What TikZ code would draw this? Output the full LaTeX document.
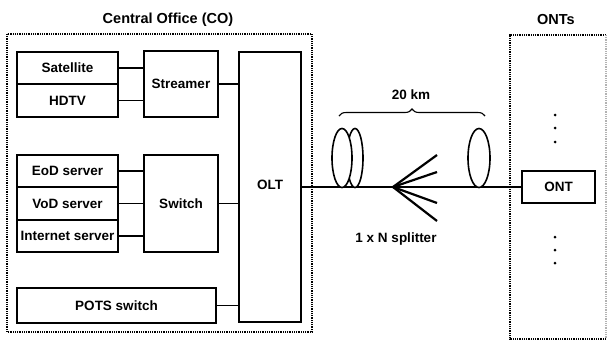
\documentclass[tikz,border=0pt]{standalone}
\usepackage{fontspec}
\setmainfont{Liberation Sans}
\usetikzlibrary{decorations.pathreplacing}
\tikzset{
  box/.style={draw, line width=1.7pt, inner sep=0pt, font=\fontsize{13.5}{15}\selectfont\bfseries},
  wire/.style={line width=1.8pt},
  region/.style={line width=1.3pt, dash pattern=on 1pt off 0.8pt},
  lbl/.style={inner sep=0pt, font=\fontsize{13.5}{15}\selectfont\bfseries},
  ttl/.style={inner sep=0pt, font=\fontsize{14.5}{16}\selectfont\bfseries},
}
\begin{document}
\begin{tikzpicture}[x=1pt,y=-1pt]
\useasboundingbox (0,0) rectangle (608,341);
% regions
\draw[region] (7,34) rectangle (312,332);
\draw[region] (606,339) -- (510,339) -- (510,35) -- (606,35);
\draw[region, gray!60] (606,35) -- (606,339);
\node[ttl] (cotitle) at (168,20) {Central Office (CO)};
\node[ttl] (onttitle) at (556,20) {ONTs};
% boxes
\node[box, minimum width=101pt, minimum height=32pt] (sat) at (67.5,68) {Satellite};
\node[box, minimum width=101pt, minimum height=33pt] (hdtv) at (67.5,100.5) {HDTV};
\node[box, minimum width=74pt, minimum height=66pt] (stream) at (181,84) {Streamer};
\node[box, minimum width=62pt, minimum height=270pt] (olt) at (270,187) {};
\node[lbl] (oltlbl) at (270,185) {OLT};
\node[box, minimum width=101pt, minimum height=32pt] (eod) at (67.5,171) {EoD server};
\node[box, minimum width=101pt, minimum height=33pt] (vod) at (67.5,203.5) {VoD server};
\node[box, minimum width=101pt, minimum height=32pt] (inet) at (67.5,236) {Internet server};
\node[box, minimum width=74pt, minimum height=97pt] (switch) at (181,203.5) {Switch};
\node[box, minimum width=199pt, minimum height=35pt] (pots) at (116.5,305.5) {POTS switch};
\node[box, minimum width=73pt, minimum height=32pt] (ont) at (558.5,187) {ONT};
% connectors
\draw[wire] (sat.east) -- (sat.east -| stream.west);
\draw[wire] (hdtv.east) -- (hdtv.east -| stream.west);
\draw[wire] (stream.east) -- (stream.east -| olt.west);
\draw[wire] (eod.east) -- (eod.east -| switch.west);
\draw[wire] (vod.east) -- (vod.east -| switch.west);
\draw[wire] (inet.east) -- (inet.east -| switch.west);
\draw[wire] (switch.east) -- (switch.east -| olt.west);
\draw[wire] (pots.east) -- (pots.east -| olt.west);
% fiber
\draw[wire] (olt.east) -- (ont.west);
\coordinate (apex) at (393,187);
\coordinate (f1) at (437,155);
\coordinate (f2) at (437,172);
\coordinate (f3) at (437,203);
\coordinate (f4) at (437,221);
\draw[wire, line width=2.2pt] (apex) -- (f1);
\draw[wire, line width=2.2pt] (apex) -- (f2);
\draw[wire, line width=2.2pt] (apex) -- (f3);
\draw[wire, line width=2.2pt] (apex) -- (f4);
% spools
\draw[line width=1.6pt, fill=white] (355,158) ellipse [x radius=8pt, y radius=29.5pt];
\draw[line width=1.6pt, fill=white] (342,158) ellipse [x radius=10pt, y radius=29.5pt];
\draw[line width=1.6pt, fill=white] (479,158) ellipse [x radius=11pt, y radius=29.5pt];
% brace
\coordinate (b1) at (339,116);
\coordinate (b2) at (485,116);
\draw[line width=1.1pt, decorate, decoration={brace, amplitude=7pt}] (b1) -- (b2);
\node[lbl] (km) at (411,95) {20 km};
\node[lbl] (split) at (396,239) {1 x N splitter};
% dots
\foreach \yy [count=\i] in {115,128,142,237,250,263}
  \fill (555,\yy) circle [radius=1.5pt] coordinate (dot\i);
\end{tikzpicture}
\end{document}
